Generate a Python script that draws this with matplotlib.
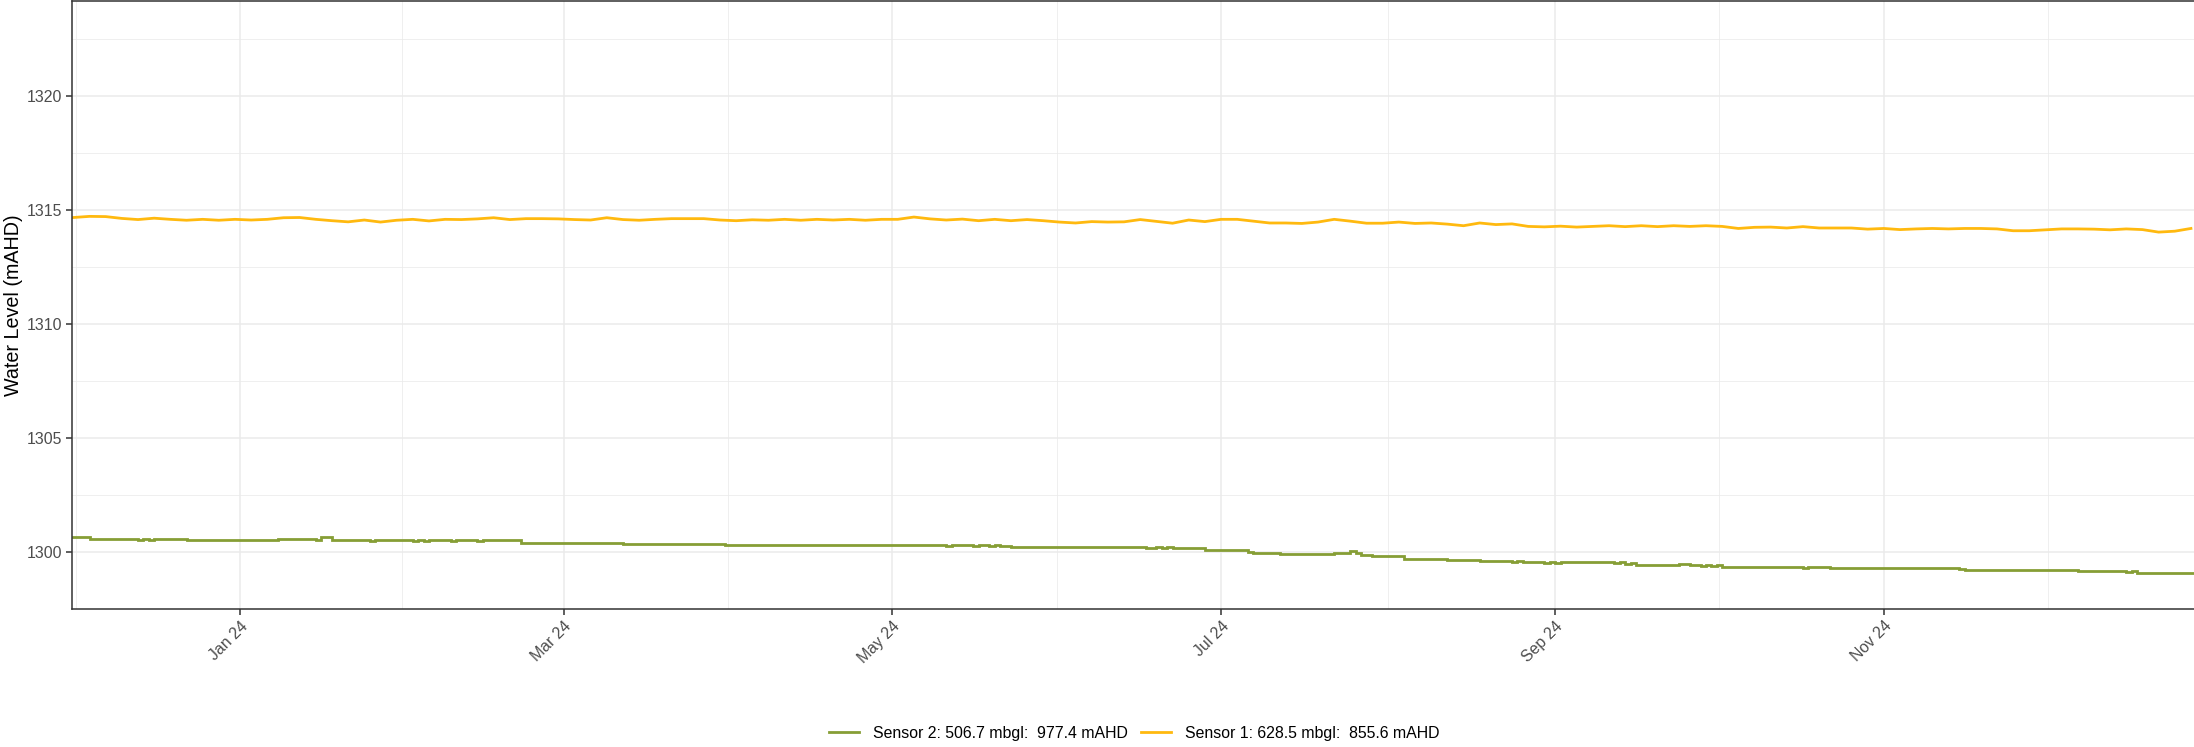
"""
Water level time series for two sensors, Dec 2023 - Dec 2024.
"""
import matplotlib
matplotlib.use('Agg')
import matplotlib.pyplot as plt
import matplotlib.dates as mdates
import numpy as np
import pandas as pd

# Sensor 2 - level holds until the next date (step record)
s2_dates = ['2023-12-01', '2023-12-04', '2023-12-13', '2023-12-14', '2023-12-15', '2023-12-16',
            '2023-12-22', '2024-01-08', '2024-01-15', '2024-01-16', '2024-01-18', '2024-01-25',
            '2024-01-26', '2024-02-02', '2024-02-03', '2024-02-04', '2024-02-05', '2024-02-09',
            '2024-02-10', '2024-02-14', '2024-02-15', '2024-02-22', '2024-03-12', '2024-03-14',
            '2024-03-16', '2024-03-19', '2024-03-21', '2024-03-24', '2024-03-25', '2024-03-27',
            '2024-03-28', '2024-03-31', '2024-05-11', '2024-05-12', '2024-05-16', '2024-05-17',
            '2024-05-19', '2024-05-20', '2024-05-21', '2024-05-23', '2024-06-12', '2024-06-13',
            '2024-06-17', '2024-06-18', '2024-06-19', '2024-06-20', '2024-06-21', '2024-06-22',
            '2024-06-28', '2024-07-06', '2024-07-07', '2024-07-12', '2024-07-22', '2024-07-25',
            '2024-07-26', '2024-07-27', '2024-07-29', '2024-08-04', '2024-08-12', '2024-08-17',
            '2024-08-18', '2024-08-24', '2024-08-25', '2024-08-26', '2024-08-30', '2024-08-31',
            '2024-09-01', '2024-09-02', '2024-09-12', '2024-09-13', '2024-09-14', '2024-09-15',
            '2024-09-16', '2024-09-24', '2024-09-26', '2024-09-28', '2024-09-29', '2024-09-30',
            '2024-10-01', '2024-10-02', '2024-10-17', '2024-10-18', '2024-10-22', '2024-11-15',
            '2024-11-16', '2024-11-20', '2024-11-21', '2024-12-06', '2024-12-07', '2024-12-16',
            '2024-12-17', '2024-12-18', '2024-12-29']
s2_levels = [1300.65, 1300.58, 1300.53, 1300.58, 1300.53, 1300.58,
             1300.51, 1300.58, 1300.53, 1300.64, 1300.51, 1300.47,
             1300.51, 1300.47, 1300.51, 1300.47, 1300.51, 1300.46,
             1300.51, 1300.47, 1300.51, 1300.40, 1300.34, 1300.37,
             1300.33, 1300.37, 1300.33, 1300.37, 1300.33, 1300.36,
             1300.33, 1300.30, 1300.27, 1300.30, 1300.26, 1300.29,
             1300.26, 1300.29, 1300.26, 1300.23, 1300.20, 1300.23,
             1300.19, 1300.17, 1300.21, 1300.17, 1300.21, 1300.17,
             1300.07, 1300.02, 1299.97, 1299.90, 1299.97, 1300.06,
             1299.96, 1299.88, 1299.81, 1299.71, 1299.63, 1299.66,
             1299.62, 1299.58, 1299.62, 1299.54, 1299.50, 1299.54,
             1299.50, 1299.54, 1299.50, 1299.54, 1299.49, 1299.53,
             1299.45, 1299.49, 1299.41, 1299.37, 1299.41, 1299.37,
             1299.41, 1299.35, 1299.31, 1299.35, 1299.28, 1299.24,
             1299.19, 1299.23, 1299.19, 1299.22, 1299.17, 1299.13,
             1299.17, 1299.09, 1299.09]

# Sensor 1 - readings every 3 days from 1 Dec 2023
s1_start = '2023-12-01'
s1_levels = [1314.66, 1314.71, 1314.70, 1314.62, 1314.57, 1314.63, 1314.58, 1314.54, 1314.58, 1314.54,
             1314.58, 1314.55, 1314.58, 1314.65, 1314.66, 1314.58, 1314.52, 1314.47, 1314.55, 1314.46,
             1314.54, 1314.58, 1314.51, 1314.58, 1314.57, 1314.60, 1314.65, 1314.57, 1314.61, 1314.61,
             1314.60, 1314.57, 1314.55, 1314.65, 1314.57, 1314.54, 1314.58, 1314.61, 1314.61, 1314.61,
             1314.55, 1314.52, 1314.56, 1314.54, 1314.58, 1314.54, 1314.58, 1314.55, 1314.58, 1314.54,
             1314.58, 1314.58, 1314.68, 1314.60, 1314.55, 1314.59, 1314.52, 1314.58, 1314.52, 1314.57,
             1314.52, 1314.46, 1314.42, 1314.48, 1314.46, 1314.47, 1314.57, 1314.49, 1314.41, 1314.55,
             1314.48, 1314.58, 1314.58, 1314.50, 1314.42, 1314.42, 1314.40, 1314.46, 1314.58, 1314.50,
             1314.41, 1314.41, 1314.46, 1314.40, 1314.42, 1314.37, 1314.30, 1314.42, 1314.35, 1314.38,
             1314.27, 1314.25, 1314.28, 1314.24, 1314.27, 1314.30, 1314.26, 1314.30, 1314.26, 1314.30,
             1314.27, 1314.30, 1314.27, 1314.18, 1314.23, 1314.24, 1314.20, 1314.26, 1314.20, 1314.20,
             1314.20, 1314.15, 1314.18, 1314.13, 1314.16, 1314.18, 1314.16, 1314.18, 1314.18, 1314.16,
             1314.08, 1314.08, 1314.12, 1314.16, 1314.16, 1314.15, 1314.12, 1314.16, 1314.13, 1314.02,
             1314.06, 1314.18]

series_labels = ['Sensor 2: 506.7 mbgl:  977.4 mAHD', 'Sensor 1: 628.5 mbgl:  855.6 mAHD']
series_colors = ['#869E35', '#FFB90F']

x_major = ['2024-01-01', '2024-03-01', '2024-05-01', '2024-07-01', '2024-09-01', '2024-11-01']
y_major = [1300, 1305, 1310, 1315, 1320]
x_limits = ('2023-11-30 18:00', '2024-12-29 03:00')
y_limits = (1297.8, 1324.15)

plt.rcParams.update({
    'font.family': 'Liberation Sans',
    'font.size': 11.4,
})

s2_x = pd.to_datetime(s2_dates)
s1_x = pd.date_range(s1_start, periods=len(s1_levels), freq='3D')

fig = plt.figure(figsize=(21.94, 7.47), dpi=100)
ax = fig.add_axes([72 / 2194, 1 - 609 / 747, 2125 / 2194, 608 / 747])

ax.plot(s2_x, s2_levels, drawstyle='steps-post', color=series_colors[0], lw=2.0,
        label=series_labels[0], solid_joinstyle='miter')
ax.plot(s1_x, s1_levels, color=series_colors[1], lw=2.0, label=series_labels[1])

# axes limits / ticks (ggplot style: minor breaks halfway between majors)
ax.set_xlim(pd.to_datetime(x_limits[0]), pd.to_datetime(x_limits[1]))
ax.set_ylim(*y_limits)
major_num = mdates.date2num(pd.to_datetime(x_major))
ext = np.concatenate([[mdates.date2num(pd.Timestamp('2023-11-01'))], major_num,
                      [mdates.date2num(pd.Timestamp('2025-01-01'))]])
ax.set_xticks(major_num)
ax.set_xticks((ext[:-1] + ext[1:]) / 2, minor=True)
ax.xaxis.set_major_formatter(mdates.DateFormatter('%b %y'))
ax.set_yticks(y_major)
ax.set_yticks([v + 2.5 for v in [1295] + y_major], minor=True)

ax.grid(which='major', color='#EBEBEB', lw=1.1)
ax.grid(which='minor', color='#EBEBEB', lw=0.55)
ax.set_axisbelow(True)
for sp in ax.spines.values():
    sp.set_color('#333333')
    sp.set_linewidth(1.1)

ax.tick_params(which='major', length=4.4, width=1.1, color='#333333',
               labelcolor='#4D4D4D', labelsize=11.4, pad=2.4)
ax.tick_params(which='minor', length=0)
for lbl in ax.get_xticklabels():
    lbl.set_rotation(45)
    lbl.set_ha('right')
    lbl.set_va('top')
    lbl.set_rotation_mode('anchor')

ax.set_ylabel('Water Level (mAHD)', fontsize=14.2, labelpad=3)
ax.set_xlabel('')

handles, labels = ax.get_legend_handles_labels()
fig.legend(handles, labels, loc='center', bbox_to_anchor=(0.517, 0.0187), ncol=2,
           frameon=False, fontsize=11.4, handlelength=1.85, handletextpad=0.9,
           columnspacing=0.85)

fig.savefig('out.png', dpi=100)
print("Saved: out.png")
